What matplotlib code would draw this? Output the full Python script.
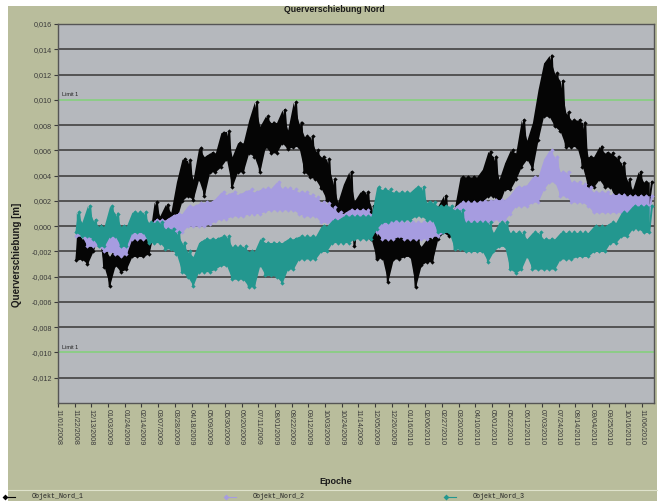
import numpy as np
import pandas as pd
import matplotlib
matplotlib.use("Agg")
import matplotlib.pyplot as plt
from matplotlib.patches import Rectangle
from matplotlib.lines import Line2D

plt.rcParams['font.family'] = ['Liberation Sans', 'DejaVu Sans']

# weekly sampling dates (first epoch 24 Nov 2008)
dates = pd.date_range("2008-11-24", periods=104, freq="7D")

# weekly lower / upper envelope of each object, values in mm
nord1_lo = [-2.7, -2.6, -3.0, -2.0, -0.8, -3.2, -4.7, -3.1, -3.6, -3.4,
            -2.4, -2.4, -2.4, -2.2, 0.0, 0.0, 0.3, -0.2, 0.5, 2.0,
            2.4, 2.1, 3.7, 2.4, 4.3, 4.3, 4.7, 5.3, 3.1, 4.3,
            4.3, 5.8, 5.5, 4.3, 6.3, 5.8, 5.8, 6.6, 6.1, 6.3,
            6.3, 4.3, 3.9, 3.7, 3.0, 2.1, 0.8, -0.8, 0.6, 0.9,
            -1.6, 1.1, 1.1, -1.0, -2.6, -2.5, -4.4, -2.6, -2.6, -2.4,
            -2.4, -4.8, -3.1, -2.8, -2.8, -1.0, -0.5, -0.8, -0.5, 1.3,
            1.3, 1.3, 1.5, 1.9, 2.4, 2.4, 1.7, 2.9, 2.9, 3.7,
            4.7, 5.3, 4.5, 6.8, 8.7, 8.7, 7.9, 7.5, 6.3, 6.3,
            6.3, 4.7, 3.1, 3.1, 3.7, 3.1, 3.1, 2.1, 2.1, 1.9,
            1.7, 1.9, 1.9, 1.9]
nord1_hi = [0.0, -1.0, -1.2, -0.5, 0.0, -1.8, -2.4, -1.6, -2.0, -1.8,
            -0.9, -1.0, -1.0, -1.2, 1.9, 0.8, 1.7, 1.1, 3.5, 5.3,
            5.2, 3.7, 6.2, 5.5, 5.8, 5.8, 7.4, 7.5, 5.5, 6.6,
            6.6, 8.4, 9.8, 7.9, 8.7, 8.2, 8.2, 9.2, 7.6, 9.8,
            8.2, 7.1, 7.1, 6.0, 5.5, 5.3, 3.7, 1.9, 3.3, 4.3,
            2.0, 2.7, 2.7, 1.6, -0.8, 1.5, -1.0, -0.8, -0.8, -1.0,
            -1.0, -1.0, -1.6, -1.0, -1.0, 1.6, 2.4, 0.3, 1.5, 3.9,
            3.9, 3.9, 3.9, 4.5, 5.9, 5.5, 3.7, 5.0, 6.0, 5.8,
            8.4, 6.8, 8.2, 10.8, 12.9, 13.5, 12.1, 11.5, 9.0, 8.4,
            8.4, 8.2, 5.5, 5.5, 6.3, 5.8, 5.8, 5.5, 5.0, 3.7,
            2.9, 4.3, 3.5, 3.5]

nord2_lo = [-0.8, -0.8, -1.6, -1.6, -1.6, -2.0, -2.0, -2.2, -2.4, -2.2,
            -1.0, -1.0, -1.0, -1.0, -0.8, -0.8, -0.8, -0.8, -0.8, -0.5,
            0.0, 0.0, 0.0, 0.0, 0.2, 0.4, 0.6, 0.6, 0.8, 0.8,
            0.8, 1.0, 1.0, 1.0, 1.2, 1.3, 1.3, 1.3, 1.3, 1.3,
            1.0, 0.8, 0.8, 0.8, 0.3, 0.3, 0.2, 0.0, 0.0, 0.0,
            0.2, 0.2, 0.2, 0.0, -0.5, -1.0, -1.0, -1.0, -0.8, -1.0,
            -1.0, -1.0, -1.0, -1.0, -0.8, -0.8, -0.5, -0.3, 0.0, 0.0,
            0.0, 0.2, 0.2, 0.2, 0.3, 0.5, 0.5, 0.5, 1.0, 1.6,
            1.6, 1.6, 1.9, 1.9, 2.9, 3.5, 3.5, 2.4, 2.4, 1.9,
            1.9, 1.9, 1.6, 1.1, 1.1, 1.1, 1.1, 1.1, 1.1, 1.1,
            1.1, 1.1, 1.1, 1.1]
nord2_hi = [0.3, 0.0, -0.2, -0.2, -0.3, -0.5, -0.5, -0.8, -0.8, -0.8,
            -0.2, -0.2, -0.2, -0.2, 0.5, 0.5, 0.5, 0.8, 1.0, 1.0,
            1.6, 1.6, 1.8, 1.9, 1.9, 2.2, 2.7, 2.5, 2.7, 2.5,
            2.7, 2.9, 2.7, 2.9, 3.0, 3.0, 3.5, 3.0, 3.0, 2.9,
            2.7, 2.7, 2.5, 2.3, 1.9, 1.8, 1.5, 1.1, 1.0, 1.3,
            1.3, 1.3, 1.3, 1.0, 0.8, 0.5, 0.5, 0.5, 0.5, 0.3,
            0.3, 0.3, 0.3, 0.3, 0.3, 0.5, 0.5, 0.8, 1.5, 1.9,
            1.9, 1.9, 1.9, 2.0, 2.0, 2.1, 2.1, 2.1, 2.5, 3.1,
            3.1, 3.3, 3.9, 3.9, 5.3, 6.0, 5.5, 4.3, 4.3, 3.5,
            3.5, 3.3, 3.1, 2.7, 2.7, 2.7, 2.5, 2.5, 2.5, 2.4,
            2.4, 2.4, 2.4, 2.4]

nord3_lo = [-0.5, -0.8, -0.8, -1.0, -1.6, -1.6, -0.8, -0.8, -1.6, -1.6,
            -0.5, -0.5, -0.5, -1.3, -1.3, -1.3, -1.8, -1.8, -2.2, -3.6,
            -4.0, -4.7, -3.6, -3.6, -3.6, -3.4, -3.1, -3.1, -4.2, -4.2,
            -4.2, -4.8, -4.8, -3.1, -3.9, -3.9, -4.0, -4.5, -3.4, -3.4,
            -2.6, -2.6, -2.6, -2.6, -2.0, -2.0, -1.3, -1.3, -1.3, -1.3,
            -1.0, -1.0, -1.0, -1.0, -0.2, 0.3, 0.3, 0.5, 0.5, 0.5,
            0.5, 0.8, 0.8, 0.5, 0.5, -0.5, -0.5, -0.5, -1.8, -1.8,
            -2.0, -2.0, -2.0, -2.0, -2.8, -2.0, -1.6, -1.6, -3.4, -3.7,
            -3.4, -2.4, -3.4, -3.4, -3.4, -3.4, -3.4, -2.6, -2.6, -2.6,
            -2.4, -2.4, -2.4, -2.0, -2.0, -2.0, -1.3, -1.3, -0.8, -0.8,
            -0.2, -0.2, -0.5, -0.5]
nord3_hi = [1.1, 0.3, 1.6, 0.5, 0.0, 0.0, 1.6, 1.0, 0.0, 0.0,
            1.1, 1.1, 1.1, 0.3, 0.3, 0.3, -0.2, -0.2, -0.5, -1.3,
            -2.0, -2.4, -1.3, -1.0, -1.0, -1.0, -0.8, -0.8, -1.6, -1.6,
            -1.6, -2.0, -2.0, -1.0, -1.3, -1.3, -1.3, -1.3, -1.0, -1.0,
            -0.8, -0.8, -0.8, -0.8, 0.0, 0.0, 0.5, 0.5, 0.8, 0.8,
            0.8, 0.8, 0.8, 0.8, 3.1, 2.9, 2.9, 2.7, 2.7, 2.7,
            2.7, 3.1, 3.1, 1.9, 1.9, 1.6, 1.6, 1.6, 1.3, 1.3,
            0.3, 0.3, 0.3, 0.3, 0.3, -0.5, 0.3, 0.3, -0.5, -0.5,
            -0.5, -1.0, -0.5, -0.5, -1.0, -1.0, -1.0, -0.5, -0.5, -0.5,
            -0.5, -0.5, -0.5, 0.0, 0.0, 0.0, 0.3, 0.3, 1.1, 1.1,
            1.6, 1.6, 1.6, 1.6]

series = [
    ("Objekt_Nord_1", nord1_lo, nord1_hi, "#050505"),
    ("Objekt_Nord_2", nord2_lo, nord2_hi, "#a69ce0"),
    ("Objekt_Nord_3", nord3_lo, nord3_hi, "#23978f"),
]

limit_value = 0.010
y_ticks = np.arange(-0.012, 0.0161, 0.002)
x_ticks = pd.date_range("2008-11-01", "2010-11-10", freq="21D")

W, H = 660, 501
fig = plt.figure(figsize=(W / 100, H / 100), dpi=100, facecolor="white")

bg = "#b9bd9c"
fig.patches.append(Rectangle((8 / W, 0), (657 - 8) / W, 1 - 6 / H,
                             transform=fig.transFigure, facecolor=bg,
                             edgecolor="none", zorder=-10))
fig.lines.append(Line2D([8 / W, 657 / W], [1 - 490 / H, 1 - 490 / H],
                        transform=fig.transFigure, color="#dfe2cc", lw=0.8))

ax = fig.add_axes([58 / W, 1 - 403 / H, (654 - 58) / W, (403 - 24) / H])
ax.set_facecolor("#b5b8bd")

for yt in y_ticks:
    ax.axhline(yt, color="#4b4b4b", lw=1.3, zorder=1)
for lv in (limit_value, -limit_value):
    ax.axhline(lv, color="#8fcf8a", lw=1.4, zorder=2)
    ax.annotate("Limit 1", xy=(0, lv), xycoords=("axes fraction", "data"),
                xytext=(3, 2), textcoords="offset points", fontsize=4,
                color="#222222", va="bottom", ha="left")

half_week = pd.Timedelta(days=3.5)
for k, (name, lo, hi, col) in enumerate(series):
    lo_m = np.array(lo) / 1000.0
    hi_m = np.array(hi) / 1000.0
    t = np.empty(2 * len(dates), dtype="datetime64[ns]")
    v = np.empty(2 * len(dates))
    t[0::2] = dates.values
    t[1::2] = (dates + half_week).values
    v[0::2] = lo_m
    v[1::2] = hi_m
    ax.fill_between(dates, lo_m, hi_m, color=col, lw=0, zorder=3 + k)
    ax.plot(t, v, color=col, lw=1.4, marker="D", ms=2.2, mew=0,
            zorder=3 + k)

ax.set_ylim(-0.014, 0.016)
ax.set_xlim(pd.Timestamp("2008-11-01"), pd.Timestamp("2010-11-21"))
ax.set_yticks(y_ticks)
ax.set_yticklabels([f"{v:.3f}".replace(".", ",").replace("-0,000", "0,000")
                    for v in y_ticks])
ax.set_xticks(x_ticks)
ax.set_xticklabels([d.strftime("%m/%d/%Y") for d in x_ticks], rotation=-90)
ax.tick_params(axis="both", labelsize=5.2, colors="#3a3a3a", length=3,
               width=0.8, pad=1.5)
for s in ax.spines.values():
    s.set_color("#555555")
    s.set_linewidth(1.0)

fig.text(334 / W, 1 - 10 / H, "Querverschiebung Nord", ha="center",
         va="center", fontsize=6.3, fontweight="bold", color="#1a1a1a")
fig.text(17 / W, 1 - 255 / H, "Querverschiebung [m]", ha="center",
         va="center", rotation=90, fontsize=7, fontweight="bold",
         color="#1a1a1a")
fig.text(336 / W, 1 - 482 / H, "Epoche", ha="center", va="center",
         fontsize=6.5, fontweight="bold", color="#1a1a1a")

legend_x = [10, 231, 451]
for (name, lo, hi, col), lx in zip(series, legend_x):
    fig.lines.append(Line2D([(lx - 5) / W, (lx + 5) / W],
                            [1 - 497 / H, 1 - 497 / H],
                            transform=fig.transFigure, color=col, lw=0.8,
                            marker="D", ms=3, markevery=[0], mew=0))
    fig.text((lx + 22) / W, 1 - 497 / H, name, ha="left", va="center",
             fontsize=4.8, family=["Liberation Mono", "DejaVu Sans Mono"],
             color="#222222")

fig.savefig("out.png", dpi=100, facecolor="white")
